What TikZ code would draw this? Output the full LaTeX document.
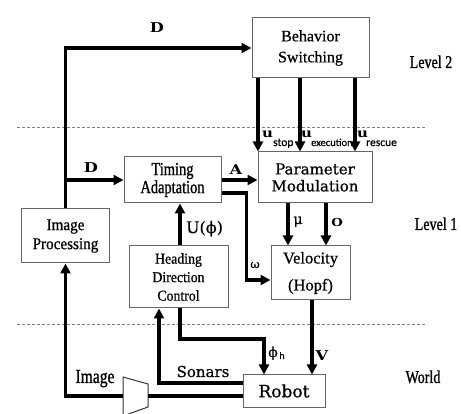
\documentclass[tikz,border=0pt]{standalone}
\usepackage{fontspec}
\setmainfont[FakeBold=0.6]{Liberation Serif}
\newfontfamily\condfont[FakeStretch=0.78,FakeBold=1]{Liberation Serif}
\newfontfamily\narfont[FakeStretch=0.92,FakeBold=0.7]{Liberation Serif}
\newfontfamily\slabfont[FakeBold=0.6]{DejaVu Serif}
\newfontfamily\slabwide[FakeStretch=1.2]{DejaVu Serif}
\newfontfamily\subfont[FakeBold=0.5]{Carlito}
\usetikzlibrary{arrows.meta,calc}

\tikzset{
  box/.style={draw=black!60, line width=1pt, inner sep=0pt, align=center, fill=white},
  arr/.style={line width=3.2pt, -{Triangle[length=10pt,width=10pt]}},
  wire/.style={line width=3.2pt},
  levelsep/.style={draw=black!50, line width=0.9pt, dash pattern=on 3pt off 2pt},
  lbl/.style={anchor=base, inner sep=0pt},
  siglbl/.style={lbl, font=\slabwide\bfseries\fontsize{13.5}{13.5}\selectfont},
  ulbl/.style={lbl, anchor=base west, font=\slabwide\bfseries\fontsize{12.5}{12}\selectfont},
  sublbl/.style={lbl, anchor=base west, font=\subfont\fontsize{11.5}{12}\selectfont},
}

\begin{document}
\begin{tikzpicture}[x=1pt,y=-1pt]
\useasboundingbox[fill=white] (0,0) rectangle (461,414);

% level separators
\draw[levelsep] (17,127) -- (425,127);
\draw[levelsep] (17,324) -- (425,324);

% blocks
\node[box, minimum width=117pt, minimum height=60pt, font=\fontsize{16}{21}\selectfont]
  (bs) at (310.5,48) {Behavior\\Switching};
\node[box, minimum width=114pt, minimum height=51pt, font=\slabfont\fontsize{15}{17}\selectfont]
  (pm) at (315,177.5) {Parameter\\Modulation};
\node[box, minimum width=97pt, minimum height=46pt, font=\condfont\fontsize{18.5}{18}\selectfont]
  (ta) at (172.5,180) {Timing\\Adaptation};
\node[box, minimum width=88pt, minimum height=54pt, font=\narfont\fontsize{16.5}{19}\selectfont]
  (ip) at (65.5,236) {Image\\Processing};
\node[box, minimum width=99pt, minimum height=62pt, font=\narfont\fontsize{15}{18.5}\selectfont]
  (hdc) at (178.5,277) {Heading\\Direction\\Control};
\node[box, minimum width=79pt, minimum height=54pt, font=\fontsize{16.5}{27}\selectfont]
  (vel) at (310.5,273) {Velocity\\(Hopf)};
\node[box, minimum width=82pt, minimum height=32pt, font=\slabfont\fontsize{17}{20}\selectfont]
  (robot) at (284,391) {Robot};

% camera symbol
\coordinate (ml) at (123,396);
\coordinate (mr) at (148,396);
\draw[black!80, line width=1pt, fill=white] (123,377) -- (148,384) -- (148,407) -- (123,416) -- cycle;

% helper columns
\coordinate (c1) at (258,0);
\coordinate (c2) at (300,0);
\coordinate (c3) at (355,0);
\coordinate (cu) at (180,0);
\coordinate (cmu) at (288,0);
\coordinate (co) at (326,0);
\coordinate (cv) at (312,0);
\coordinate (cs) at (159,0);
\coordinate (cph) at (264,339);
\coordinate (jd) at (ip.north |- ta.west);

% connectors
\draw[arr] (ip.north) |- (bs.west);
\draw[arr] (jd) -- (ta.west);
\draw[arr] (ta.east) -- (ta.east -| pm.west);
\foreach \c in {c1,c2,c3}
  \draw[arr] (bs.south -| \c) -- (pm.north -| \c);
\draw[arr] ([yshift=-13pt]ta.east) -- ++(25,0) |- ([yshift=-7pt]vel.west);
\draw[arr] (hdc.north -| cu) -- (ta.south -| cu);
\draw[arr] (pm.south -| cmu) -- (vel.north -| cmu);
\draw[arr] (pm.south -| co) -- (vel.north -| co);
\draw[arr] (vel.south -| cv) -- (robot.north -| cv);
\draw[arr] (hdc.south -| cu) |- (cph) -- (cph |- robot.north);
\draw[arr] ([yshift=8pt]robot.west) -| (cs |- hdc.south);
\draw[wire] ([yshift=-5pt]robot.west) -- (mr);
\draw[arr] (ml) -| (ip.south);

% signal labels
\node[siglbl] (ld1) at (157,33) {D};
\node[siglbl] (ld2) at (91,173) {D};
\node[siglbl] (la) at (236,175) {A};
\node[siglbl, font=\slabwide\bfseries\fontsize{11}{11}\selectfont] (lo) at (337,227) {O};
\node[siglbl] (lv) at (322,360) {V};
\node[lbl, font=\slabfont\fontsize{14}{14}\selectfont] (lmu) at (298,224) {μ};
\node[lbl, font=\slabfont\fontsize{16}{16}\selectfont] (luphi) at (204.5,233) {U(ϕ)};
\node[lbl, font=\slabfont\fontsize{11.5}{11.5}\selectfont] (lw) at (255,268) {ω};
\node[lbl, font=\slabfont\fontsize{14}{14}\selectfont] (lphi) at (273,357) {ϕ};
\node[lbl, font=\subfont\fontsize{10}{10}\selectfont] (lphih) at (282,359) {h};
\node[lbl, font=\slabfont\fontsize{15}{15}\selectfont] (lson) at (203,377) {Sonars};
\node[lbl, font=\condfont\fontsize{20}{20}\selectfont] (limg) at (95,383) {Image};

% command inputs u
\node[ulbl] (u1) at (262,138) {u};
\node[sublbl] (s1) at (273,146) {stop};
\node[ulbl] (u2) at (301,138) {u};
\node[sublbl, font=\subfont\fontsize{10.5}{12}\selectfont] (s2) at (311,146) {execution};
\node[ulbl] (u3) at (357,138) {u};
\node[sublbl] (s3) at (366,146) {rescue};

% level names
\node[lbl, font=\condfont\fontsize{18}{18}\selectfont] (lev2) at (431,68) {Level 2};
\node[lbl, font=\condfont\fontsize{18}{18}\selectfont] (lev1) at (436,230) {Level 1};
\node[lbl, font=\condfont\fontsize{18}{18}\selectfont] (world) at (423,383) {World};
\end{tikzpicture}
\end{document}
